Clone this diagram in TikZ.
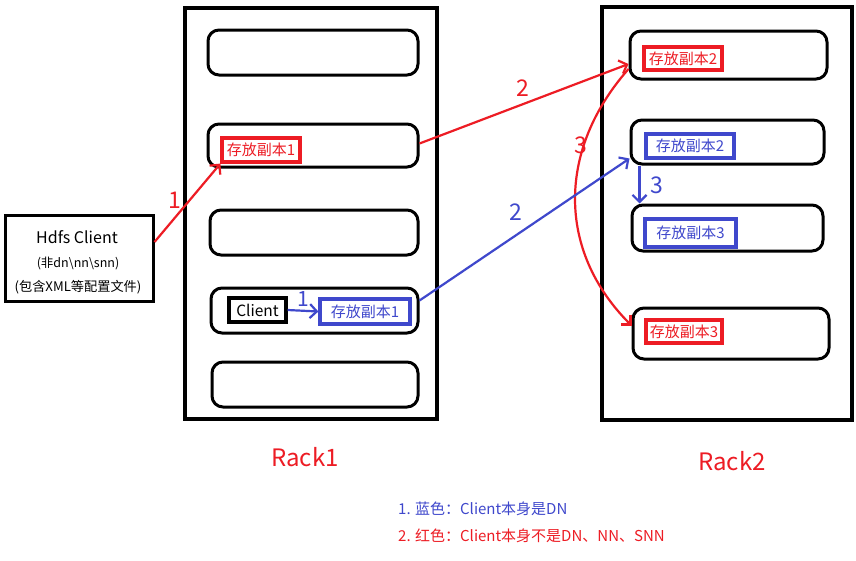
\documentclass[tikz,border=0pt]{standalone}
\usepackage{fontspec}
\setmainfont{Noto Sans CJK SC}
\usetikzlibrary{arrows.meta}
\definecolor{pred}{HTML}{ED1C24}
\definecolor{pblue}{HTML}{3F48CC}
\tikzset{
  rack/.style={draw=black, line width=3.2pt, inner sep=0pt},
  drum/.style={draw=black, line width=3pt, rounded corners=11pt, inner sep=0pt},
  rbox/.style={draw=pred, line width=3.2pt, inner sep=0pt, text=pred, font=\fontsize{15}{17}\selectfont},
  bbox/.style={draw=pblue, line width=3.2pt, inner sep=0pt, text=pblue, font=\fontsize{15}{17}\selectfont},
  kbox/.style={draw=black, line width=3.2pt, inner sep=0pt, font=\fontsize{15.5}{17}\selectfont},
  rarr/.style={draw=pred, line width=2.2pt, -{Straight Barb[length=7pt,width=14pt,line width=2.2pt]}},
  barr/.style={draw=pblue, line width=2.2pt, -{Straight Barb[length=7pt,width=14pt,line width=2.2pt]}},
  rlab/.style={text=pred, font=\fontsize{23}{25}\selectfont, inner sep=0pt},
  blab/.style={text=pblue, font=\fontsize{23}{25}\selectfont, inner sep=0pt},
}
\begin{document}
\begin{tikzpicture}[x=1pt,y=-1pt]
\useasboundingbox[fill=white] (0,0) rectangle (856,560);
% racks
\node[rack, minimum width=252, minimum height=411] (rack1) at (311,213.5) {};
\node[rack, minimum width=250, minimum height=413] (rack2) at (727,213.5) {};
% rack1 drums
\node[drum, minimum width=210, minimum height=45] (r1a) at (313,52.5) {};
\node[drum, minimum width=210, minimum height=43] (r1b) at (313,145.5) {};
\node[drum, minimum width=208, minimum height=45] (r1c) at (314,232.5) {};
\node[drum, minimum width=207, minimum height=45] (r1d) at (314.5,310.5) {};
\node[drum, minimum width=206, minimum height=45] (r1e) at (315,384.5) {};
% rack2 drums
\node[drum, minimum width=197, minimum height=48] (r2a) at (728.5,55) {};
\node[drum, minimum width=193, minimum height=44] (r2b) at (727.5,142) {};
\node[drum, minimum width=191, minimum height=46] (r2c) at (727.5,228) {};
\node[drum, minimum width=196, minimum height=51] (r2d) at (731,333.5) {};
% inner boxes
\node[rbox, minimum width=78, minimum height=24] (red1) at (261,150) {存放副本1};
\node[kbox, minimum width=57, minimum height=24] (client) at (257.5,310) {Client};
\node[bbox, minimum width=90, minimum height=25] (blue1) at (365,311.5) {存放副本1};
\node[rbox, minimum width=78, minimum height=23] (red2) at (683,58.5) {存放副本2};
\node[bbox, minimum width=88, minimum height=24] (blue2) at (690,146) {存放副本2};
\node[bbox, minimum width=91, minimum height=28] (blue3) at (690.5,233) {存放副本3};
\node[rbox, minimum width=76, minimum height=23] (red3) at (684,331.5) {存放副本3};
% hdfs client
\node[draw=black, line width=3pt, minimum width=148, minimum height=86, inner sep=0pt] (hdfs) at (79,258) {};
\node[font=\fontsize{16}{18}\selectfont, inner sep=0pt] (h1) at (77,237) {Hdfs Client};
\node[font=\fontsize{12.5}{14}\selectfont, inner sep=0pt] (h2) at (78,263) {(非dn\textbackslash nn\textbackslash snn)};
\node[font=\fontsize{13.2}{15}\selectfont, inner sep=0pt] (h3) at (78,287) {(包含XML等配置文件)};
% red arrows
\draw[rarr] ([yshift=16pt]hdfs.east) -- (red1.south west);
\node[rlab] (l1) at (175,200) {1};
\draw[rarr] ([yshift=2pt]r1b.east) -- ([yshift=-9pt]r2a.west);
\node[rlab] (l2) at (523,88) {2};
\coordinate (c3s) at ([yshift=-14pt]r2a.west);
\draw[rarr] (c3s) .. controls (557,150) and (557,251) .. ([yshift=8pt]r2d.west);
\node[rlab] (l3) at (581,145) {3};
% blue arrows
\draw[barr] (client.east) -- (blue1.west);
\node[blab, font=\fontsize{21}{23}\selectfont] (b1) at (303,299) {1};
\draw[barr] ([yshift=10pt]r1d.east) -- ([yshift=7pt]r2b.south west);
\node[blab] (b2) at (516,212) {2};
\draw[barr] ([xshift=10pt]r2b.south west) -- ([xshift=9pt]r2c.north west);
\node[blab] (b3) at (657,185) {3};
% rack labels
\node[text=pred, font=\fontsize{24}{26}\selectfont] (rk1) at (305,457) {Rack1};
\node[text=pred, font=\fontsize{24}{26}\selectfont] (rk2) at (732,461) {Rack2};
% legend
\node[text=pblue, anchor=west, font=\fontsize{15}{17}\selectfont, inner sep=0pt] (lg1) at (398,509) {1. 蓝色：Client本身是DN};
\node[text=pred, anchor=west, font=\fontsize{15}{17}\selectfont, inner sep=0pt] (lg2) at (398,536) {2. 红色：Client本身不是DN、NN、SNN};
\end{tikzpicture}
\end{document}
